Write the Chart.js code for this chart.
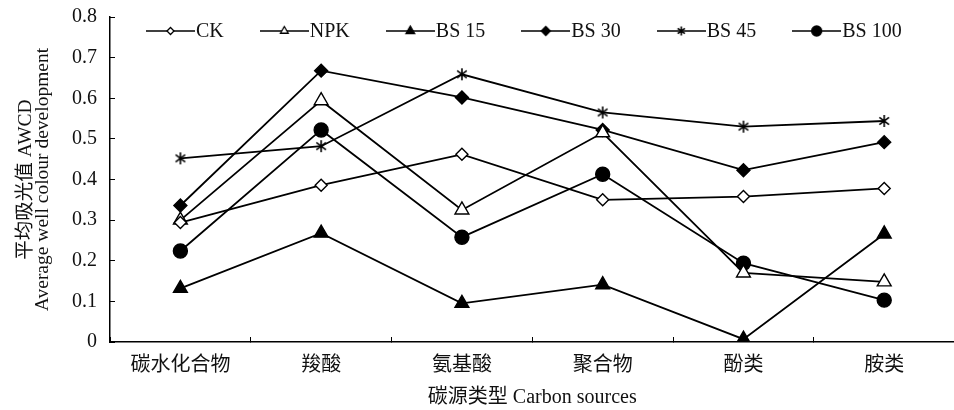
<!DOCTYPE html>
<html><head><meta charset="utf-8">
<script src="https://cdn.jsdelivr.net/npm/chart.js@4.4.1/dist/chart.umd.min.js"></script>
<style>
html,body{margin:0;padding:0;background:#fff;overflow:hidden;width:954px;height:410px}
#wrap{position:absolute;left:0;top:0;width:964px;height:410px}
</style>
</head><body>
<div id="wrap"><canvas id="c" width="964" height="410"></canvas></div>
<script>
// ---- data ----
const categories = ['碳水化合物', '羧酸', '氨基酸', '聚合物', '酚类', '胺类'];
const seriesNames = ['CK', 'NPK', 'BS 15', 'BS 30', 'BS 45', 'BS 100'];
const ck    = [0.294, 0.386, 0.462, 0.350, 0.358, 0.378];
const npk   = [0.300, 0.594, 0.325, 0.515, 0.170, 0.148];
const bs15  = [0.132, 0.268, 0.095, 0.141, 0.007, 0.266];
const bs30  = [0.336, 0.668, 0.602, 0.522, 0.423, 0.492];
const bs45  = [0.452, 0.482, 0.659, 0.565, 0.530, 0.544];
const bs100 = [0.224, 0.522, 0.258, 0.413, 0.194, 0.103];
const yTickValues = [0, 0.1, 0.2, 0.3, 0.4, 0.5, 0.6, 0.7, 0.8];
const yTickLabels = ['0', '0.1', '0.2', '0.3', '0.4', '0.5', '0.6', '0.7', '0.8'];
const yTitle = ['平均吸光值 AWCD', 'Average well colour development'];
const xTitle = '碳源类型 Carbon sources';

// ---- styling helpers ----
const FONT = "'Liberation Serif', 'Noto Sans CJK SC', serif";
const INK = '#111';

function shape(g, style, x, y, r, fill) {
  g.beginPath();
  if (style === 'diamond') {
    g.moveTo(x - r, y); g.lineTo(x, y - r); g.lineTo(x + r, y); g.lineTo(x, y + r); g.closePath();
  } else if (style === 'triangle') {
    const c = Math.cos(Math.PI / 6) * r;
    g.moveTo(x, y - r); g.lineTo(x + c, y + r / 2); g.lineTo(x - c, y + r / 2); g.closePath();
  } else if (style === 'circle') {
    g.arc(x, y, r, 0, Math.PI * 2);
  } else if (style === 'asterisk') {
    g.moveTo(x, y - r); g.lineTo(x, y + r);
    const d = r * 0.8;
    g.moveTo(x - d, y - d * 0.75); g.lineTo(x + d, y + d * 0.75);
    g.moveTo(x - d, y + d * 0.75); g.lineTo(x + d, y - d * 0.75);
  }
  g.strokeStyle = '#000';
  if (style !== 'asterisk') {
    g.fillStyle = fill; g.fill(); g.lineWidth = 1.3; g.stroke();
  } else {
    g.lineWidth = 1.6; g.stroke();
  }
}
function markerCanvas(style, r, fill) {
  const s = Math.ceil(r * 2 + 4);
  const cv = document.createElement('canvas'); cv.width = s; cv.height = s;
  shape(cv.getContext('2d'), style, s / 2, s / 2, r, fill);
  return cv;
}
function legendIcon(style, r, fill) {
  const w = 49, h = 16;
  const cv = document.createElement('canvas'); cv.width = w; cv.height = h;
  const g = cv.getContext('2d');
  g.strokeStyle = '#000'; g.lineWidth = 1.7;
  g.beginPath(); g.moveTo(0, h / 2); g.lineTo(w, h / 2); g.stroke();
  shape(g, style, w / 2, h / 2, r, fill);
  return cv;
}

const legendIcons = [
  legendIcon('diamond', 3.5, '#fff'),
  legendIcon('triangle', 4.5, '#fff'),
  legendIcon('triangle', 5, '#000'),
  legendIcon('diamond', 4.5, '#000'),
  legendIcon('asterisk', 4.5, '#000'),
  legendIcon('circle', 5, '#000')
];

function ds(label, data, pointStyle, radius, fill) {
  return {
    label, data,
    borderColor: '#000', borderWidth: 1.8,
    pointStyle, pointRadius: radius, pointHoverRadius: radius,
    pointBackgroundColor: fill, pointBorderColor: '#000', pointBorderWidth: 1.4,
    tension: 0, fill: false
  };
}

// legend drawn inside the plot area (single row, line + marker samples)
const inlineLegend = {
  id: 'inlineLegend',
  afterDatasetsDraw(chart) {
    const { ctx, chartArea } = chart;
    ctx.save();
    ctx.font = '20px ' + FONT;
    ctx.fillStyle = INK;
    ctx.textBaseline = 'middle';
    ctx.textAlign = 'left';
    let x = chartArea.left + 36;
    const y = chartArea.top + 14;
    chart.data.datasets.forEach((d, i) => {
      const icon = legendIcons[i];
      ctx.drawImage(icon, x, y - icon.height / 2);
      x += icon.width + 1;
      ctx.fillText(d.label, x, y + 1);
      x += ctx.measureText(d.label).width + 36;
    });
    ctx.restore();
  }
};

new Chart(document.getElementById('c'), {
  type: 'line',
  data: {
    labels: categories,
    datasets: [
      ds(seriesNames[0], ck, 'rectRot', 6, '#fff'),
      ds(seriesNames[1], npk, 'triangle', 8, '#fff'),
      ds(seriesNames[2], bs15, 'triangle', 8, '#000'),
      ds(seriesNames[3], bs30, 'rectRot', 6.5, '#000'),
      ds(seriesNames[4], bs45, markerCanvas('asterisk', 6, '#000'), 6, '#000'),
      ds(seriesNames[5], bs100, 'circle', 7, '#000')
    ]
  },
  options: {
    responsive: false,
    animation: false,
    devicePixelRatio: 1,
    layout: { padding: { top: 17, left: 0, right: 2, bottom: 0 } },
    plugins: {
      tooltip: { enabled: false },
      legend: { display: false }
    },
    scales: {
      x: {
        type: 'category',
        offset: true,
        grid: { display: true, offset: true, drawOnChartArea: false, drawTicks: true, tickLength: -5, color: '#000', lineWidth: 1 },
        border: { display: true, color: '#000', width: 1.5 },
        ticks: { color: INK, font: { family: FONT, size: 20 }, padding: 17, maxRotation: 0, autoSkip: false },
        title: { display: true, text: xTitle, color: INK, font: { family: FONT, size: 20 }, padding: { top: 0, bottom: 0 } },
        afterFit(scale) { scale.height = 68; }
      },
      y: {
        type: 'linear',
        min: 0, max: 0.8,
        afterBuildTicks(scale) { scale.ticks = yTickValues.map(v => ({ value: v })); },
        grid: { display: true, drawOnChartArea: false, drawTicks: true, tickLength: -5, color: '#000', lineWidth: 1 },
        border: { display: true, color: '#000', width: 1.5 },
        ticks: {
          color: INK, font: { family: FONT, size: 20 }, padding: 18,
          callback(value, index) { return yTickLabels[index]; }
        },
        title: { display: true, text: yTitle, color: INK, font: { family: FONT, size: 19.5, lineHeight: 0.88 }, padding: { top: 17.5, bottom: 0 } },
        afterFit(scale) { scale.width = 110; scale.paddingTop = 0; scale.paddingBottom = 0; }
      }
    }
  },
  plugins: [inlineLegend]
});
</script>
</body></html>
